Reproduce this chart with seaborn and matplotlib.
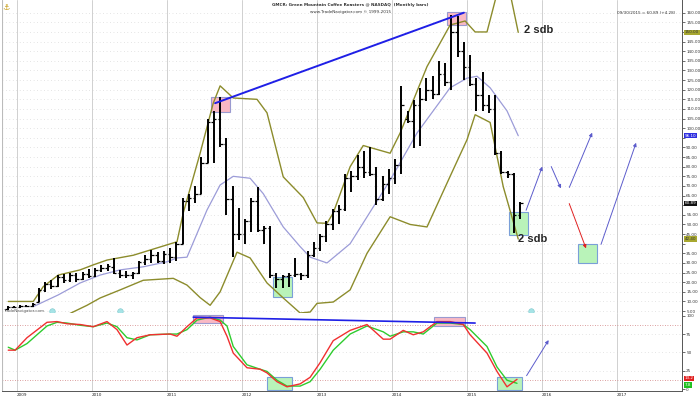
import numpy as np
import pandas as pd
import matplotlib
matplotlib.use("Agg")
import matplotlib.pyplot as plt
import seaborn as sns
from matplotlib.patches import Rectangle

sns.set_style("white")
plt.rcParams['font.family'] = ['DejaVu Sans']

# monthly bars GMCR, month index 0 = Jan 2009, first bar Nov 2008
first_month = -2
opens = [6.0, 7.0, 7.2, 7.5, 7.8, 9.7, 16, 19, 18, 22.5, 21, 24, 21.5, 24.5,
         23, 26.5, 27.5, 28, 25, 23.5, 24, 25, 30.5, 32, 34, 31,
         34.5, 33, 40, 62, 64, 66, 82, 103, 105, 92, 63, 45,
         45, 52, 62, 47, 48, 24, 21.5, 23, 24, 24.5, 24, 34,
         38, 44, 50, 57, 58, 74, 75, 80, 77, 76, 63, 71,
         74, 81, 105, 104, 112, 115, 120, 118, 128, 124, 150, 140,
         132, 123, 117, 112, 110, 87, 77, 76, 55]
highs = [7.5, 7.8, 8.0, 8.2, 9.0, 17, 20, 21, 23.5, 24.5, 25, 25, 25.5, 27,
         27.5, 29, 29.5, 32.5, 26.5, 26, 25.5, 31, 34, 36.5, 35.5, 36,
         38, 41, 64, 66, 70, 85, 105, 109, 116, 95, 70, 58.5,
         53, 64, 69.5, 49, 49, 25, 24, 25, 32.5, 25, 36, 41,
         45, 52, 58, 60, 76, 78, 86, 88, 90, 80, 75, 79,
         84, 122, 109, 114.6, 121, 126, 127, 135, 134, 159, 158.5, 145,
         138, 126, 129, 117, 117, 88, 78, 76.6, 61.5]
lows = [5.5, 6.5, 6.8, 7.0, 7.2, 9.5, 15, 16.5, 17.5, 19.5, 20, 20, 21, 22,
        22.5, 25.5, 26, 24.5, 22, 22, 21.5, 24.5, 29, 30, 30, 29.5,
        30, 31, 40, 57, 61, 66, 82, 82, 90, 55, 33, 42,
        40, 46, 46, 40, 22, 17, 17, 17.5, 22.5, 21, 22, 33,
        36, 41, 47, 50, 57, 67, 73, 74, 75, 60, 62, 66,
        71, 76, 102.5, 89.7, 91, 114, 115, 117, 122, 120, 137, 125,
        122, 109, 109, 108, 86, 76, 74, 45.5, 53]
closes = [7.0, 7.2, 7.5, 7.8, 8.5, 16, 19, 18, 22.5, 21, 24, 21.5, 24.5, 23,
          26.5, 27.5, 28.5, 25, 23.5, 24, 25, 30.5, 32, 34, 31, 34.5,
          33, 40, 62, 64, 66, 82, 103, 105, 92, 63, 45, 45,
          52, 62, 47, 48, 24, 21.5, 23, 24, 24.5, 24, 34, 38,
          44, 50, 57, 58, 74, 75, 80, 77, 76, 63, 71, 74,
          81, 112, 104, 112, 115, 120, 118, 128, 124, 150, 140, 132,
          123, 117, 112, 110, 87, 77, 76, 55, 60.89]

# Bollinger bands (month position, value)
upper_x = [-1.4, 2.6, 4.2, 6.6, 10.1, 12.2, 14.4, 18.6, 22.4, 25.0, 25.6, 26.6, 29.3, 31.4,
           32.5, 34.6, 38.4, 40.0, 42.6, 45.8, 48.0, 49.6, 50.6, 53.3, 55.4, 59.7, 61.3,
           65.6, 69.3, 71.7, 73.3, 75.2, 76.8, 78.9, 80.2]
upper_v = [10, 10, 17.7, 23.7, 26.4, 29, 31.5, 34, 37.8, 40.4, 41, 56, 87, 113,
           122, 115.7, 115, 108, 74.7, 64, 50.8, 50.6, 56, 80, 91, 87, 97.5,
           132, 153.6, 155.7, 150, 150, 170, 170, 149.8]
mid_x = [2.6, 6.6, 10.1, 13.3, 16.5, 20.2, 24.0, 25.6, 27.2, 30.4, 32.5, 34.6, 37.3,
         39.4, 42.6, 45.3, 46.9, 49.6, 53.3, 59.7, 64.0, 69.3, 72.0, 73.6, 75.7, 78.4, 80.2]
mid_v = [7.3, 13.4, 19.6, 23.7, 26.4, 28, 30.6, 32.6, 33, 57.5, 70.5, 75, 74,
         66, 48.7, 38.5, 33, 30, 40, 73, 97.5, 121, 126, 127, 121, 109, 96.1]
lower_x = [6.1, 8.0, 11.2, 13.3, 16.5, 20.2, 25.0, 27.2, 29.3, 30.9, 32.5, 35.2, 37.3,
           40.0, 42.6, 45.3, 46.9, 48.0, 50.6, 53.3, 56.0, 59.7, 62.9, 65.6, 69.3,
           72.0, 73.3, 75.7, 77.8, 80.2]
lower_v = [-2, 3, 8, 11.8, 16, 21, 22, 18.5, 12, 8, 15, 35.6, 32.6,
           19.6, 11.8, 4, 4.5, 9, 9.7, 16, 35, 54, 50, 48.7, 75,
           94, 107, 103, 69.6, 42.4]

# stochastic oscillator
osc_x = [-1.4, -0.3, 1.6, 4.8, 6.4, 8.0, 10.1, 12.2, 14.4, 16.0, 17.6, 19.2, 21.3, 24.5,
         25.6, 27.2, 28.8, 30.9, 32.5, 33.6, 34.6, 36.8, 38.9, 40.0, 41.6, 43.2, 45.3,
         46.9, 48.5, 50.6, 53.3, 56.0, 58.6, 59.7, 61.8, 63.4, 65.0, 67.2, 69.3, 71.4,
         72.5, 75.2, 76.8, 78.4, 80.0]
osc_fast = [53, 53, 70, 91, 92, 89, 88, 85, 92, 81, 60, 70, 74, 75, 72, 85, 97, 97, 92, 72,
            49, 29, 27, 22, 10, 3, 7, 16, 36, 66, 80, 88, 68, 68, 80, 74, 78, 92, 92, 88,
            74, 49, 24, 3, 13.2]
osc_slow = [57, 53, 62, 86, 91, 90, 87, 85, 90, 85, 70, 67, 74, 75, 75, 81, 94, 98, 94, 86,
            58, 33, 27, 24, 12, 4, 4, 10, 27, 53, 75, 86, 78, 72, 78, 78, 75, 90, 90, 88,
            81, 58, 30, 12, 7.8]

years = ["2009", "2010", "2011", "2012", "2013", "2014", "2015", "2016", "2017"]

bars = pd.DataFrame({"open": opens, "high": highs, "low": lows, "close": closes})
bars["x"] = np.arange(len(bars)) + first_month + 0.5

OLIVE = "#8c8c2c"
LAV = "#9c9cd8"
FS = 3.0

fig = plt.figure(figsize=(7, 3.97), dpi=100)
axp = fig.add_axes([2 / 700, 1 - 313 / 397, 680 / 700, 313 / 397])
axo = fig.add_axes([2 / 700, 1 - 390.7 / 397, 680 / 700, 77.7 / 397])

xlim = (-2.4, 106.4)
for ax in (axp, axo):
    ax.set_xlim(*xlim)
    for i in range(len(years)):
        ax.axvline(i * 12, color="#d0d0d0", lw=0.7, zorder=0)
    ax.yaxis.tick_right()
    for s in ("top", "left"):
        ax.spines[s].set_visible(False)
    ax.spines["right"].set_color("#555555")
    ax.spines["right"].set_linewidth(0.7)
    ax.spines["bottom"].set_color("#555555")
    ax.spines["bottom"].set_linewidth(0.7)
    ax.tick_params(axis="y", labelsize=FS, length=2, width=0.5, pad=1, colors="#333333")
axp.spines["bottom"].set_visible(False)
axp.plot([xlim[0], xlim[0]], [4, 166.6], color="#bbbbbb", lw=0.8)
axo.plot([xlim[0], xlim[0]], [-2.3, 103.7], color="#bbbbbb", lw=0.8)

# price panel; labels hidden where a value flag sits on the axis
price_ticks = np.arange(5, 161, 5)
hidden = {150, 95, 60, 40}
axp.set_ylim(4.0, 166.6)
axp.set_yticks(price_ticks)
axp.set_yticklabels(["" if v in hidden else f"{v:.2f}" for v in price_ticks])
for v in price_ticks:
    axp.axhline(v, color="#cccccc", lw=0.5, ls=(0, (1, 4)), zorder=0)
axp.set_xticks([])

sns.lineplot(x=upper_x, y=upper_v, ax=axp, color=OLIVE, lw=1.0, zorder=2)
sns.lineplot(x=lower_x, y=lower_v, ax=axp, color=OLIVE, lw=1.0, zorder=2)
sns.lineplot(x=mid_x, y=mid_v, ax=axp, color=LAV, lw=0.9, zorder=2)

axp.vlines(bars["x"], bars["low"], bars["high"], color="black", lw=1.4, zorder=4)
axp.hlines(bars["open"], bars["x"] - 0.4, bars["x"], color="black", lw=0.9, zorder=4)
axp.hlines(bars["close"], bars["x"], bars["x"] + 0.4, color="black", lw=0.9, zorder=4)

# annotations price panel
axp.add_patch(Rectangle((31.0, 108.4), 3.1, 7.6, fc="#f9b8c4", ec="#9a9ad0", lw=0.8, zorder=1))
axp.add_patch(Rectangle((68.8, 153.6), 3.0, 6.8, fc="#f9b8c4", ec="#9a9ad0", lw=0.8, zorder=1))
axp.add_patch(Rectangle((41.0, 12.2), 3.0, 10.5, fc="#b9f3b9", ec="#7a9fd8", lw=0.8, zorder=1))
axp.add_patch(Rectangle((78.7, 44.5), 3.1, 11.9, fc="#b9f3b9", ec="#7a9fd8", lw=0.8, zorder=1))
axp.add_patch(Rectangle((89.8, 30.0), 3.0, 10.0, fc="#b9f3b9", ec="#7a9fd8", lw=0.8, zorder=1))
axp.plot([31.7, 71.5], [113, 160], color="#1f1fe6", lw=1.4, zorder=5)

arrows = [((81.3, 56), (84.2, 81.4), "#5c5ccc"), ((85.3, 81.4), (87.2, 67.4), "#5c5ccc"),
          ((88.2, 67.9), (92.2, 99), "#5c5ccc"), ((88.2, 62.2), (91.2, 36.2), "#e02020"),
          ((93.3, 38.3), (99.2, 93.8), "#5c5ccc")]
for a, b, c in arrows:
    axp.annotate("", xy=b, xytext=a,
                 arrowprops=dict(arrowstyle="-|>", color=c, lw=0.7, mutation_scale=5))

axp.text(81.1, 151, "2 sdb", fontsize=8, fontweight="bold", family="Liberation Sans", va="center")
axp.text(80.2, 42.5, "2 sdb", fontsize=8, fontweight="bold", family="Liberation Sans", va="center")

for cx in (5.6, 16.5, 82.2):
    axp.plot(cx, 5.0, "o", ms=4, color="#a6e3e6", mec="#7cc8cc", mew=0.4, zorder=6)
axp.text(-2.2, 5.0, "TradeNavigator.com", fontsize=3.0, color="#555555", va="center")


# right axis value flags
def flag(ax, y, txt, bg, fg="white"):
    ax.text(1.004, y, txt, transform=ax.get_yaxis_transform(), fontsize=FS, color=fg,
            va="center", ha="left", bbox=dict(boxstyle="square,pad=0.15", fc=bg, ec="none"),
            zorder=10, clip_on=False)


flag(axp, 149.8, "150.00", "#a8a830", "#333333")
flag(axp, 96.1, "96.10", "#2f2fe0")
flag(axp, 60.89, "60.89", "#111111")
flag(axp, 42.4, "42.40", "#a8a830", "#333333")

# oscillator panel
axo.set_ylim(-2.3, 103.7)
axo.set_yticks([0, 25, 50, 75, 100])
axo.set_yticklabels(["0", "25", "50", "75", "100"])
for v in (25, 50, 75):
    axo.axhline(v, color="#cccccc", lw=0.5, ls=(0, (1, 4)), zorder=0)
axo.axhline(88, color="#d08080", lw=0.6, ls=(0, (1, 2)), zorder=0)
axo.axhline(12, color="#d08080", lw=0.6, ls=(0, (1, 2)), zorder=0)

axo.add_patch(Rectangle((28.2, 90), 4.8, 11, fc="#f9b8c4", ec="#9a9ad0", lw=0.8, zorder=1))
axo.add_patch(Rectangle((66.7, 86), 5.0, 12, fc="#f9b8c4", ec="#9a9ad0", lw=0.8, zorder=1))
axo.add_patch(Rectangle((40.0, -2), 4.0, 18.4, fc="#b9f3b9", ec="#7a9fd8", lw=0.8, zorder=1))
axo.add_patch(Rectangle((76.8, -2), 4.0, 18.4, fc="#b9f3b9", ec="#7a9fd8", lw=0.8, zorder=1))

sns.lineplot(x=osc_x, y=osc_slow, ax=axo, color="#2ecc2e", lw=1.0, zorder=3)
sns.lineplot(x=osc_x, y=osc_fast, ax=axo, color="#f03030", lw=1.0, zorder=4)
axo.plot([28.2, 73.3], [98, 90], color="#1f1fe6", lw=1.2, zorder=5)
axo.annotate("", xy=(85.3, 70), xytext=(81.3, 15),
             arrowprops=dict(arrowstyle="-|>", color="#5c5ccc", lw=0.7, mutation_scale=5))
flag(axo, 14.5, "13.2", "#e02020")
flag(axo, 5.5, "7.8", "#20c020")

axo.set_xticks([i * 12 for i in range(len(years))])
axo.set_xticklabels(years, fontsize=FS, ha="left")
axo.tick_params(axis="x", length=0, pad=2)

fig.text(0.5, 0.993, "GMCR: Green Mountain Coffee Roasters @ NASDAQ  (Monthly bars)",
         fontsize=FS, ha="center", va="top", fontweight="bold", color="#333333")
fig.text(0.5, 0.976, "www.TradeNavigator.com \u00a9 1999-2015", fontsize=FS, ha="center",
         va="top", color="#333333")
fig.text(675 / 700, 1 - 13 / 397, "09/30/2015 = 60.89 (+4.28)", fontsize=FS, ha="right",
         va="center", color="#333333")
fig.text(6 / 700, 1 - 7 / 397, "\u2693", fontsize=6, color="#c8a020", ha="center", va="center")

fig.savefig("out.png", dpi=100)
